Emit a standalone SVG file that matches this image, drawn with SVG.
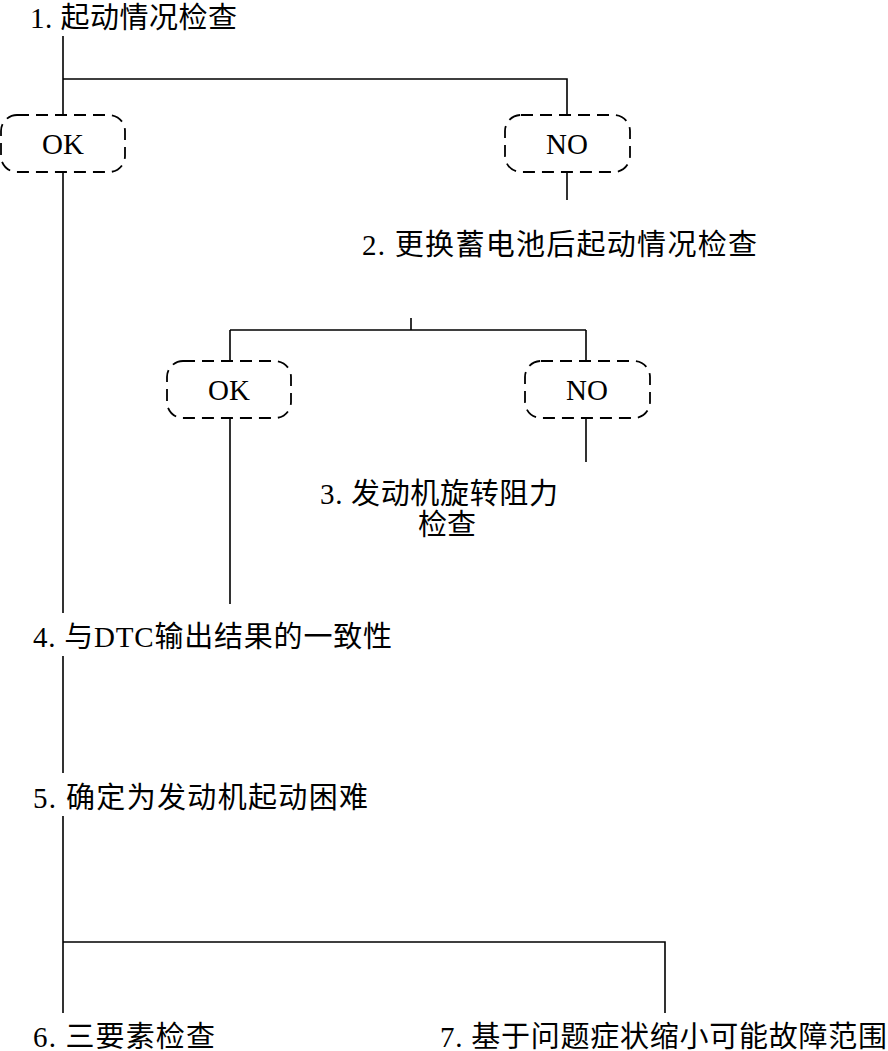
<svg xmlns="http://www.w3.org/2000/svg" width="888" height="1051" viewBox="0 0 888 1051">
<style>
.t{font-family:"Liberation Serif","Noto Sans CJK SC",serif;font-size:29px;fill:#000}
.lbl{font-family:"Liberation Serif",serif;font-size:29px;fill:#000;text-anchor:middle}
.box{fill:none;stroke:#000;stroke-width:1.8;stroke-dasharray:12 7}
.c{fill:none;stroke:#000;stroke-width:1.6}
</style>
<rect width="888" height="1051" fill="#fff"/>
<g id="connectors">
<path class="c" d="M63 36V115M63 79H567V115M63 172V613M567 172V200"/>
<path class="c" d="M411 318V330M230 330H586M230 330V361M586 330V361M230 418V604M586 418V462"/>
<path class="c" d="M63 656V773M63 816V1013M63 942H665V1013"/>
</g>
<g id="n1"><text class="t" x="30" y="28" textLength="207" lengthAdjust="spacing">1. 起动情况检查</text></g>
<g id="ok1"><rect class="box" x="1" y="115" width="124" height="57" rx="16"/><text class="lbl" x="63" y="154">OK</text></g>
<g id="no1"><rect class="box" x="505" y="115" width="125" height="57" rx="16"/><text class="lbl" x="567" y="154">NO</text></g>
<g id="n2"><text class="t" x="362" y="255" textLength="395" lengthAdjust="spacing">2. 更换蓄电池后起动情况检查</text></g>
<g id="ok2"><rect class="box" x="167" y="361" width="124" height="57" rx="16"/><text class="lbl" x="229" y="400">OK</text></g>
<g id="no2"><rect class="box" x="525" y="361" width="125" height="57" rx="16"/><text class="lbl" x="587" y="400">NO</text></g>
<g id="n3"><text class="t" x="320" y="504" textLength="238" lengthAdjust="spacing">3. 发动机旋转阻力</text><text class="t" x="447" y="535" text-anchor="middle">检查</text></g>
<g id="n4"><text class="t" x="33" y="647" textLength="359" lengthAdjust="spacing">4. 与DTC输出结果的一致性</text></g>
<g id="n5"><text class="t" x="33" y="808" textLength="335" lengthAdjust="spacing">5. 确定为发动机起动困难</text></g>
<g id="n6"><text class="t" x="33" y="1047" textLength="182" lengthAdjust="spacing">6. 三要素检查</text></g>
<g id="n7"><text class="t" x="440" y="1047" textLength="447" lengthAdjust="spacing">7. 基于问题症状缩小可能故障范围</text></g>
</svg>
